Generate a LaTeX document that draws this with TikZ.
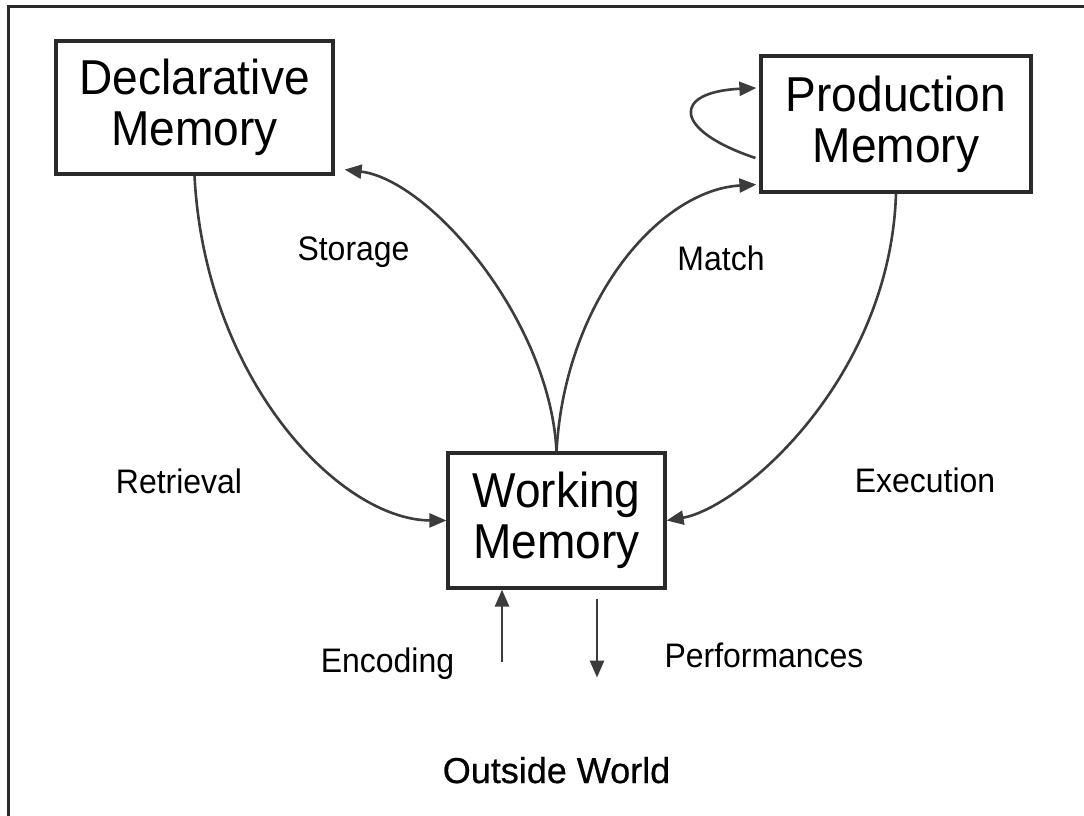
\documentclass[tikz,border=0pt]{standalone}
\usepackage{fontspec}
\setmainfont[FakeStretch=0.94]{Liberation Sans}
\newfontfamily\owfont[FakeBold=0.6]{Liberation Sans}
\usetikzlibrary{arrows.meta,calc}
\definecolor{boxline}{HTML}{2A2A2A}
\definecolor{arrline}{HTML}{3C3C3C}
\definecolor{txt}{HTML}{000000}
\begin{document}
\begin{tikzpicture}[x=1pt,y=-1pt,
  memorybox/.style={draw=boxline,line width=3.2pt,fill=white,inner sep=0pt,
    align=center,text=txt,font=\fontsize{49}{51}\selectfont},
  lbl/.style={anchor=base,text=txt,inner sep=0pt,font=\fontsize{34}{40}\selectfont},
  arr/.style={draw=arrline,line width=2.6pt,-{Triangle[length=17pt,width=14pt]}},
  frameline/.style={draw=boxline,line width=3pt}]
\useasboundingbox (0,0) rectangle (1084,816);
\fill[white] (0,0) rectangle (1084,816);
\coordinate (ftop) at (1084,7);
\coordinate (fcorner) at (8,7);
\coordinate (fbottom) at (8,816);
\draw[frameline] (ftop) -- (fcorner) -- (fbottom);

\node[memorybox,minimum width=277pt,minimum height=133pt] (decl) at (194.5,107.5) {Declarative\\Memory};
\node[memorybox,minimum width=270pt,minimum height=136pt] (prod) at (896,124) {Production\\Memory};
\node[memorybox,minimum width=217pt,minimum height=135pt] (work) at (556.5,520.5) {Working\\Memory};

\coordinate (storEnd) at ($(decl.south east)+(10,-6)$);
\coordinate (matchEnd) at ($(prod.south west)+(-3,-9)$);
\coordinate (loopStart) at ($(prod.west)+(-4,34)$);
\coordinate (loopEnd) at ($(prod.west)+(-3,-36)$);
\coordinate (encStart) at ($(work.south)+(-54.5,72)$);
\coordinate (encEnd) at ($(work.south)+(-54.5,0)$);
\coordinate (perfStart) at ($(work.south)+(40.5,9)$);
\coordinate (perfEnd) at ($(work.south)+(40.5,88)$);

% Retrieval
\draw[arr] (decl.south) .. controls (205,380) and (340,520) .. (work.west);
% Storage
\draw[arr] (work.north) .. controls (550,320) and (430,180) .. (storEnd);
% Match
\draw[arr] (work.north) .. controls (565,300) and (660,190) .. (matchEnd);
% Execution
\draw[arr] (prod.south) .. controls (890,380) and (740,508) .. (work.east);
% self loop
\draw[arr] (loopStart) .. controls (672,130) and (672,92) .. (loopEnd);
% Encoding / Performances
\draw[arr] (encStart) -- (encEnd);
\draw[arr] (perfStart) -- (perfEnd);

\node[lbl] (lstorage) at (353.5,260) {Storage};
\node[lbl] (lmatch) at (721,270) {Match};
\node[lbl] (lretrieval) at (179,493) {Retrieval};
\node[lbl] (lexecution) at (925,492) {Execution};
\node[lbl] (lencoding) at (387.5,672) {Encoding};
\node[lbl] (lperf) at (764,667) {Performances};
\node[lbl,font=\owfont\fontsize{36}{40}\selectfont] (outside) at (556.5,783) {Outside World};
\end{tikzpicture}
\end{document}
